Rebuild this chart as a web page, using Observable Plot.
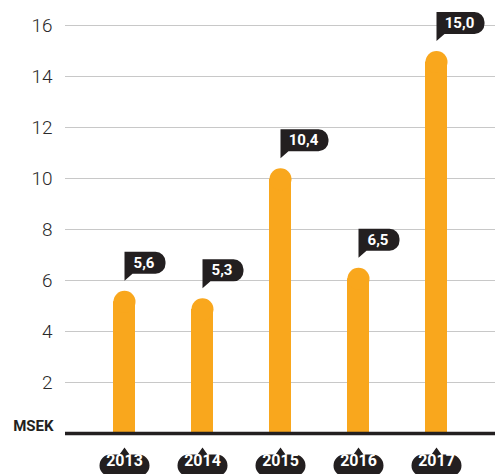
<!DOCTYPE html>
<html>
<head>
<meta charset="utf-8">
<script src="https://cdn.jsdelivr.net/npm/d3@7"></script>
<script src="https://cdn.jsdelivr.net/npm/@observablehq/plot@0.6"></script>
<style>
  html, body { margin: 0; padding: 0; background: #fff; }
</style>
</head>
<body>
<div id="chart"></div>
<script>
const years = ["2013", "2014", "2015", "2016", "2017"];
const values = [5.6, 5.3, 10.4, 6.5, 15.0];
const valueLabels = ["5,6", "5,3", "10,4", "6,5", "15,0"];
const yTicks = [2, 4, 6, 8, 10, 12, 14, 16];
const unitLabel = "MSEK";

const data = years.map((year, i) => ({ year, value: values[i], label: valueLabels[i] }));

const dark = "#231f20";
const orange = "#f9a71d";
const barR = 11;

function callout(w) {
  const t = 7, h = 22, r = 10, tw = 8;
  return {
    draw(ctx) {
      ctx.moveTo(0, 0);
      ctx.lineTo(0, -t - h);
      ctx.lineTo(w - r, -t - h);
      ctx.arcTo(w, -t - h, w, -t - h + r, r);
      ctx.lineTo(w, -t - r);
      ctx.arcTo(w, -t, w - r, -t, r);
      ctx.lineTo(tw, -t);
      ctx.closePath();
    }
  };
}

const pill = {
  draw(ctx) {
    const pw = 50, ph = 22, pr = 11, tri = 7, triW = 5;
    ctx.moveTo(0, 0);
    ctx.lineTo(triW, tri);
    ctx.lineTo(pw / 2 - pr, tri);
    ctx.arc(pw / 2 - pr, tri + pr, pr, -Math.PI / 2, Math.PI / 2);
    ctx.lineTo(-pw / 2 + pr, tri + ph);
    ctx.arc(-pw / 2 + pr, tri + pr, pr, Math.PI / 2, 3 * Math.PI / 2);
    ctx.lineTo(-triW, tri);
    ctx.closePath();
  }
};

const short = data.filter(d => d.label.length <= 3);
const long = data.filter(d => d.label.length > 3);
const gap = 10;

const chart = Plot.plot({
  width: 495,
  height: 474,
  marginLeft: 65,
  marginRight: 0,
  marginTop: 25,
  marginBottom: 41,
  style: { fontFamily: "Roboto, sans-serif", fontSize: "19px", fontWeight: "300", color: "#2a2a2a", background: "#fff" },
  x: { domain: years, paddingInner: 0.72, paddingOuter: 0.582, align: 0.5, axis: null },
  y: { domain: [0, 16], ticks: yTicks, tickSize: 0, tickPadding: 13, label: null, tickFormat: d => String(d) },
  marks: [
    Plot.ruleY(yTicks, { stroke: "#c8c8c8", strokeWidth: 1 }),
    Plot.barY(data, { x: "year", y: "value", fill: orange, insetTop: barR }),
    Plot.dot(data, { x: "year", y: "value", dy: barR, r: barR, fill: orange, stroke: null }),
    Plot.ruleY([0], { stroke: dark, strokeWidth: 3.5 }),
    Plot.text([unitLabel], { text: d => d, frameAnchor: "bottom-left", dx: -12, dy: -3, textAnchor: "end", fill: dark, fontFamily: "Roboto, sans-serif", fontWeight: "bold", fontSize: 15 }),
    Plot.dot(short, { x: "year", y: "value", dy: -gap, r: 10, symbol: callout(41), fill: dark, stroke: null }),
    Plot.dot(long, { x: "year", y: "value", dy: -gap, r: 10, symbol: callout(48), fill: dark, stroke: null }),
    Plot.text(short, { x: "year", y: "value", text: "label", dx: 19.5, dy: -gap - 18, fill: "#fff", fontFamily: "Roboto, sans-serif", fontWeight: "bold", fontSize: 15 }),
    Plot.text(long, { x: "year", y: "value", text: "label", dx: 23, dy: -gap - 18, fill: "#fff", fontFamily: "Roboto, sans-serif", fontWeight: "bold", fontSize: 15 }),
    Plot.dot(data, { x: "year", frameAnchor: "bottom", dy: 14, r: 10, symbol: pill, fill: dark, stroke: null }),
    Plot.text(data, { x: "year", frameAnchor: "bottom", text: "year", dy: 32, fill: "#fff", fontFamily: "Roboto, sans-serif", fontWeight: "bold", fontSize: 16 })
  ]
});

document.getElementById("chart").appendChild(chart);
</script>
</body>
</html>
